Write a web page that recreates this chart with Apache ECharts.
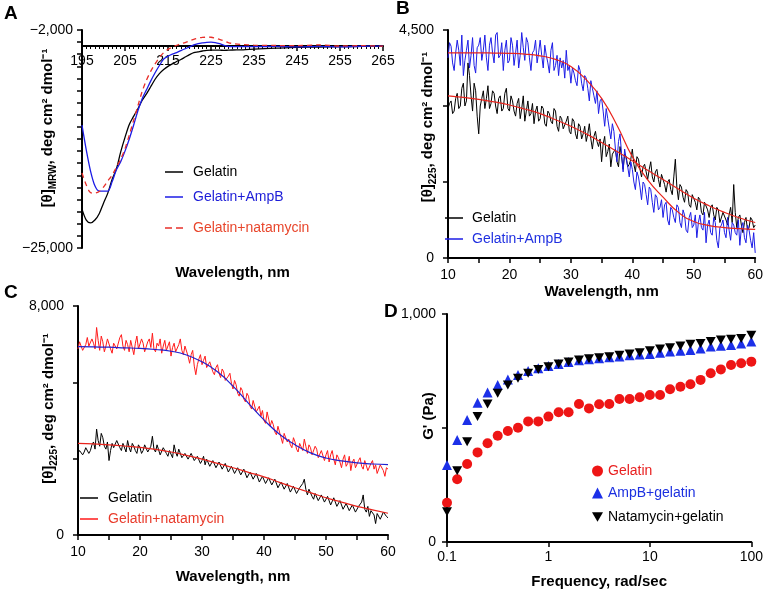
<!DOCTYPE html>
<html><head><meta charset="utf-8">
<script src="https://cdn.jsdelivr.net/npm/echarts@6/dist/echarts.min.js"></script>
<style>html,body{margin:0;padding:0;background:#fff}#c{width:766px;height:590px}</style>
</head><body><div id="c"></div>
<script>
// ---------- Panel A: CD spectra ----------
const wlA = [195,196,197,198,199,200,201,202,203,204,205,206,207,208,209,210,211,212,213,214,215,216,217,218,219,220,221,222,223,224,225,226,227,228,229,230,232.5,235,240,245,250,255,260,265];
const gelatinA = [-20180,-21540,-21900,-21540,-20750,-19450,-18200,-16500,-15200,-13100,-11300,-9700,-8700,-7750,-6700,-5900,-5000,-4100,-3400,-2900,-2500,-2200,-1900,-1650,-1350,-1050,-800,-700,-600,-520,-500,-500,-500,-520,-500,-480,-450,-370,-250,-150,-120,-60,-30,-20];
const ampbA = [-9780,-12875,-15500,-17300,-17950,-17950,-17950,-16800,-15300,-14300,-13000,-11500,-9800,-8000,-6500,-5400,-4300,-3300,-2400,-1600,-1250,-1000,-800,-550,-320,-100,150,300,400,480,500,450,300,100,-20,-60,-50,-60,-30,-100,-20,-80,-10,0];
const natA = [-15720,-17210,-18150,-18200,-18000,-17450,-16700,-15970,-15000,-14000,-12700,-11000,-9200,-7400,-5600,-4200,-3100,-2200,-1400,-800,-400,-120,100,300,450,650,850,1000,1080,1110,1100,1000,850,650,450,330,200,120,80,60,150,20,60,0];

// ---------- Panels B and C: thermal melts (x grid every 0.25 nm, fits every 2.5 nm) ----------
const wlN = Array.from({length:201},(_,i)=>10+i*0.25);
const wlFit = Array.from({length:21},(_,i)=>10+i*2.5);

const gelatinB = [
2950,3050,3100,2850,2900,3150,3250,2950,3000,3350,3450,3000,3100,3850,3600,3200,2900,3450,3300,2800,
2450,3000,3150,3300,2950,3150,3400,2950,3050,3300,3250,3000,2850,3150,3200,2900,2950,3250,3350,2950,
2900,3200,3100,2900,2800,3050,3150,2750,2950,3200,2700,2900,3100,2800,2850,3050,2650,2900,3000,2700,
2750,3000,2950,2650,2600,2900,2850,2700,2650,2950,2900,2600,2500,2800,2750,2550,2550,2700,2800,2500,
2450,2750,2700,2450,2350,2650,2600,2350,2450,2600,2300,2450,2650,2350,2150,2400,2500,2300,2200,2350,
1900,2250,2400,2000,2100,2250,1800,2050,2050,2150,1900,1800,2200,2000,1750,2050,2000,1800,1850,1950,
2150,1850,1700,2000,1950,1750,1600,1800,1850,1700,1550,1750,1900,1600,1500,1700,1750,1550,1400,1650,
1650,1450,1300,1500,1550,1350,1250,1600,1950,1400,1150,1450,1400,1200,1100,1350,1300,1050,1000,1250,
1250,1100,950,1200,1150,900,850,1100,1100,950,800,1000,1050,850,750,1000,950,700,700,900,
900,750,650,850,1000,700,1450,900,600,800,850,650,500,700,800,550,600,800,750,600,
650];
const ampbB = [
3950,4250,4180,3850,3700,4050,4300,4100,3800,4400,3600,3900,4100,4300,3750,4000,4350,3800,3650,4150,
4200,4350,3900,4100,4400,3950,3700,4200,4350,4050,3850,4400,4450,3950,4000,4250,3700,4100,4300,3850,
3900,4350,4200,3800,4050,4300,3750,4000,4450,4150,3900,4350,4250,3950,3700,4050,4100,4300,3850,4050,
4300,4000,3750,4200,4000,3850,3650,4100,4250,3700,3800,4000,3600,3950,3750,3900,3550,4100,3700,3800,
3450,3750,3650,3500,3400,3800,3700,3450,3300,3600,3550,3350,3100,3500,3350,3200,3050,3300,2850,3100,
3150,2900,2600,2950,2750,2550,2350,2650,2500,2150,1900,2300,2450,2050,1700,2150,1950,1800,1600,1900,
1750,1500,1350,1700,1600,1400,1150,1500,1450,1250,1050,1400,1350,1100,900,1250,1200,950,1000,1150,
800,1050,1100,750,650,1000,950,800,700,1050,1000,700,600,950,850,550,500,800,900,600,
650,850,400,700,850,600,550,900,300,650,750,500,450,800,700,350,200,600,650,750,
500,400,800,550,350,700,650,500,450,750,250,600,700,400,300,650,550,350,200,500,
100];
const fitGelatinB = [3200,3170,3130,3080,3020,2940,2850,2730,2600,2450,2280,2100,1920,1730,1550,1360,1180,1030,900,790,700];
const fitAmpbB = [4050,4050,4050,4045,4040,4025,3990,3920,3780,3520,3150,2620,2000,1540,1200,900,720,640,600,580,565];

const gelatinC = [
2850,2950,3000,2800,2900,3050,3100,2850,2950,3150,3250,3000,3700,3300,3100,3550,3400,3100,3000,3250,
2600,2950,3200,3050,3000,3300,3350,3050,2950,3200,3150,2900,3300,3050,2900,3200,3100,2950,2850,3150,
3050,2850,2950,3150,3200,2900,2850,3100,3450,3000,2900,3150,3100,2800,2800,3050,3000,2850,2750,2950,
2950,2700,3150,2900,2750,3000,2950,2700,2650,2850,2900,2650,2600,2850,2800,2600,2550,2750,2750,2500,
2600,2750,2450,2650,2700,2400,2400,2600,2650,2350,2350,2550,2500,2300,2250,2500,2450,2200,2200,2400,
2400,2150,2100,2350,2350,2100,2050,2300,2250,2000,1950,2200,2200,1950,1900,2150,2100,1850,1850,2050,
2050,1800,1800,2000,2000,1750,1700,1950,1900,1650,1650,1850,1850,1600,1600,1800,1750,1500,1500,1700,
1700,1450,1450,1650,1600,1800,1950,1600,1400,1600,1550,1350,1250,1450,1500,1200,1150,1400,1400,1150,
1100,1350,1300,1050,1050,1300,1250,1000,950,1200,1150,900,900,1100,1050,850,800,1050,1000,800,
750,1000,950,1150,1400,900,800,1000,650,850,900,700,400,750,750,550,550,800,850,650,
600];
const natC = [
6500,6750,6800,6450,6400,6650,6900,6600,6550,6850,6700,6500,7250,6800,6450,6950,6750,6400,6600,6850,
6900,6500,6350,6700,6750,6500,6550,6900,7000,6600,6450,6800,6650,6400,6800,6550,6300,6700,6950,6500,
6550,6850,6700,6400,6450,6750,6850,6550,7050,6500,6400,6700,6600,6850,6350,6600,6800,6450,6500,6750,
6250,6550,6700,6400,6450,6650,6850,6450,6300,6600,6550,6250,6000,6300,6450,5900,5600,5950,6150,6300,
5950,6100,6250,5850,5800,6050,6100,5700,5600,5850,5950,5650,5500,5800,5700,5400,5350,5550,5650,5300,
5100,5400,5250,4950,4850,5150,5050,4750,4650,4950,4850,4500,4400,4700,4650,4300,4250,4500,4150,4350,
4000,3900,4300,4050,3800,4000,3850,3600,3500,3800,3750,3400,3200,3550,3500,3250,3350,3150,3050,3400,
3250,3000,2900,3200,3150,2950,3350,3100,2850,3150,3050,2800,2750,3100,3000,2700,2650,2950,2900,2600,
2800,2950,2550,2800,2950,2650,2450,2800,2700,2550,2350,2650,2800,2400,2500,2750,2250,2550,2650,2350,
2400,2600,2700,2400,2300,2600,2550,2250,2200,2500,2600,2300,2450,2150,2150,2450,2500,2250,2050,2350,
2300];
const fitGelatinC = [3200,3180,3150,3110,3060,2990,2900,2780,2650,2500,2350,2190,2030,1840,1650,1480,1300,1150,1000,880,760];
const fitNatC = [6580,6570,6560,6540,6520,6480,6420,6290,6050,5700,5200,4600,4020,3520,3150,2870,2690,2590,2520,2480,2460];

// ---------- Panel D: rheology ----------
const freqD = [0.1,0.126,0.158,0.2,0.251,0.316,0.398,0.501,0.631,0.794,1,1.26,1.58,2,2.51,3.16,3.98,5.01,6.31,7.94,10,12.6,15.8,20,25.1,31.6,39.8,50.1,63.1,79.4,100];
const gelatinD = [172,275,342,393,433,466,487,501,529,529,550,569,569,605,586,604,605,627,627,635,645,645,670,681,692,711,740,757,776,784,791];
const ampbD = [338,447,535,611,656,689,713,732,750,762,772,781,789,797,801,806,810,814,819,822,825,830,835,839,842,849,857,861,864,871,879];
const natD = [133,313,440,550,605,652,689,718,740,757,769,781,789,798,804,808,813,819,825,830,839,846,852,860,867,871,879,886,889,893,907];

const pair = (xs, ys) => xs.map((x,i)=>[x, ys[i]]);
const FONT = 'Liberation Sans, Arial, sans-serif';
const BLUE = '#1c1ce6', RED = '#e8231c', BLACK = '#000';
const DOWN_TRI = 'path://M0,0L20,0L10,17.3Z';
const DASH_ICON = 'path://M0,0h7v1.5h-7zM11,0h7v1.5h-7z';

function axisBase(extra){
  return Object.assign({
    axisLine:{show:true,onZero:false,lineStyle:{color:'#000',width:2}},
    axisTick:{show:true,length:5,lineStyle:{color:'#000',width:1.5}},
    splitLine:{show:false},
    axisLabel:{color:'#000',fontSize:14,fontFamily:FONT},
    nameTextStyle:{color:'#000',fontSize:15,fontWeight:'bold',fontFamily:FONT}
  }, extra);
}
const richY = {
  a:{fontSize:15,fontWeight:'bold',fontFamily:FONT,color:'#000',lineHeight:20},
  s:{fontSize:10,fontWeight:'bold',fontFamily:FONT,color:'#000',lineHeight:10,verticalAlign:'bottom'}
};
function yName(gap, pad){
  return {nameLocation:'middle',nameRotate:90,nameGap:gap,nameMoveOverlap:false,
    nameTextStyle:{rich:richY,padding:pad||0}};
}
const lbl = (map) => (v) => (map[v] !== undefined ? map[v] : '');

const strip = n => n.split('#')[0];
function leg(name, left, top, color, extra){
  return Object.assign({data:[name],left:left,top:top,padding:0,itemWidth:18,itemHeight:1.5,itemGap:0,icon:'rect',
    formatter:strip,selectedMode:false,textStyle:{color:color,fontSize:14,fontFamily:FONT,padding:[0,0,0,5]}}, extra||{});
}

const option = {
  animation:false,
  grid:[
    {left:82,top:30,width:301,height:218},
    {left:448,top:30,width:310,height:228},
    {left:78,top:306,width:310,height:229},
    {left:447,top:314,width:308,height:228}
  ],
  xAxis:[
    axisBase({gridIndex:0,type:'value',min:195,max:265,interval:10,offset:-202,
      minorTick:{show:true,splitNumber:10,length:3,lineStyle:{color:'#000',width:1}},
      axisLabel:{color:'#000',fontSize:14,fontFamily:FONT,margin:8},
      name:'Wavelength, nm',nameLocation:'middle',nameGap:219,nameMoveOverlap:false}),
    axisBase({gridIndex:1,type:'value',min:10,max:60,interval:5,
      axisLabel:{color:'#000',fontSize:14,fontFamily:FONT,margin:10,formatter:v=>(v%10===0?String(v):'')},
      name:'Wavelength, nm',nameLocation:'middle',nameGap:26}),
    axisBase({gridIndex:2,type:'value',min:10,max:60,interval:5,
      axisLabel:{color:'#000',fontSize:14,fontFamily:FONT,margin:10,formatter:v=>(v%10===0?String(v):'')},
      name:'Wavelength, nm',nameLocation:'middle',nameGap:34}),
    axisBase({gridIndex:3,type:'log',logBase:10,min:0.1,max:100,
      axisLabel:{color:'#000',fontSize:14,fontFamily:FONT,margin:8,formatter:v=>(v<0.5?'0.1':String(Math.round(v)))},
      name:'Frequency, rad/sec',nameLocation:'middle',nameGap:32})
  ],
  yAxis:[
    axisBase(Object.assign({gridIndex:0,type:'value',min:-25000,max:2000,interval:1500,
      axisLabel:{color:'#000',fontSize:14,fontFamily:FONT,margin:9,formatter:lbl({'2000':'\u22122,000','-25000':'\u221225,000'})},
      name:'{a|[\u03b8]}{s|MRW}{a|, deg cm\u00b2 dmol\u207b\u00b9}'}, yName(24,[0,0,0,22]))),
    axisBase(Object.assign({gridIndex:1,type:'value',min:0,max:4500,interval:1500,
      axisLabel:{color:'#000',fontSize:14,fontFamily:FONT,margin:14,formatter:lbl({'4500':'4,500','0':'0'})},
      name:'{a|[\u03b8]}{s|225}{a|, deg cm\u00b2 dmol\u207b\u00b9}'}, yName(10,[0,0,0,34]))),
    axisBase(Object.assign({gridIndex:2,type:'value',min:0,max:8000,interval:8000/3,
      axisLabel:{color:'#000',fontSize:14,fontFamily:FONT,margin:14,formatter:v=>(v>7999?'8,000':(v===0?'0':''))},
      name:'{a|[\u03b8]}{s|225}{a|, deg cm\u00b2 dmol\u207b\u00b9}'}, yName(19,[0,0,0,24]))),
    axisBase({gridIndex:3,type:'value',min:0,max:1000,interval:500,
      axisLabel:{color:'#000',fontSize:14,fontFamily:FONT,margin:11,formatter:lbl({'1000':'1,000','0':'0'})},
      name:"G' (Pa)",nameLocation:'middle',nameRotate:90,nameGap:11,nameMoveOverlap:false,
      nameTextStyle:{color:'#000',fontSize:15,fontWeight:'bold',fontFamily:FONT,padding:[0,0,0,24]}})
  ],
  legend:[
    leg('Gelatin#A',165,165,'#000'),
    leg('Gelatin+AmpB#A',165,190,'#1c1cd8'),
    leg('Gelatin+natamycin#A',165,221,'#e8462c',{icon:DASH_ICON}),
    leg('Gelatin#B',445,211,'#000',{textStyle:{color:'#000',fontSize:14,fontFamily:FONT,padding:[0,0,0,4]}}),
    leg('Gelatin+AmpB#B',445,232,'#2030e0',{textStyle:{color:'#2030e0',fontSize:14,fontFamily:FONT,padding:[0,0,0,4]}}),
    leg('Gelatin#C',80,491,'#000'),
    leg('Gelatin+natamycin#C',80,512,'#e83a2a'),
    leg('Gelatin#D',592,464,'#e82020',{icon:'circle',itemWidth:11,itemHeight:11,textStyle:{color:'#e82020',fontSize:14,fontFamily:FONT}}),
    leg('AmpB+gelatin#D',592,486,'#1c30e0',{icon:'triangle',itemWidth:11,itemHeight:11,textStyle:{color:'#1c30e0',fontSize:14,fontFamily:FONT}}),
    leg('Natamycin+gelatin#D',592,510,'#000',{icon:DOWN_TRI,itemWidth:11,itemHeight:11,textStyle:{color:'#000',fontSize:14,fontFamily:FONT}})
  ],
  graphic:[
    {type:'text',left:4,top:4,style:{text:'A',font:'bold 19px '+FONT,fill:'#000'}},
    {type:'text',left:396,top:-1,style:{text:'B',font:'bold 19px '+FONT,fill:'#000'}},
    {type:'text',left:4,top:283,style:{text:'C',font:'bold 19px '+FONT,fill:'#000'}},
    {type:'text',left:384,top:302,style:{text:'D',font:'bold 19px '+FONT,fill:'#000'}}
  ],
  series:[
    {name:'Gelatin#A',type:'line',xAxisIndex:0,yAxisIndex:0,symbol:'none',smooth:0.3,data:pair(wlA,gelatinA),lineStyle:{color:BLACK,width:1.3},itemStyle:{color:BLACK}},
    {name:'Gelatin+AmpB#A',type:'line',xAxisIndex:0,yAxisIndex:0,symbol:'none',smooth:0.3,data:pair(wlA,ampbA),lineStyle:{color:BLUE,width:1.3},itemStyle:{color:BLUE}},
    {name:'Gelatin+natamycin#A',type:'line',xAxisIndex:0,yAxisIndex:0,symbol:'none',smooth:0.3,data:pair(wlA,natA),lineStyle:{color:'#e8302a',width:1.3,type:[5,4]},itemStyle:{color:'#e8302a'}},

    {name:'Gelatin#B',type:'line',xAxisIndex:1,yAxisIndex:1,symbol:'none',data:pair(wlN,gelatinB),lineStyle:{color:BLACK,width:1},itemStyle:{color:BLACK}},
    {name:'Gelatin+AmpB#B',type:'line',xAxisIndex:1,yAxisIndex:1,symbol:'none',data:pair(wlN,ampbB),lineStyle:{color:BLUE,width:1},itemStyle:{color:BLUE}},
    {name:'fitGelB',type:'line',xAxisIndex:1,yAxisIndex:1,symbol:'none',smooth:true,data:pair(wlFit,fitGelatinB),lineStyle:{color:RED,width:1.2},z:5},
    {name:'fitAmpB',type:'line',xAxisIndex:1,yAxisIndex:1,symbol:'none',smooth:true,data:pair(wlFit,fitAmpbB),lineStyle:{color:RED,width:1.2},z:5},

    {name:'Gelatin#C',type:'line',xAxisIndex:2,yAxisIndex:2,symbol:'none',data:pair(wlN,gelatinC),lineStyle:{color:BLACK,width:1},itemStyle:{color:BLACK}},
    {name:'Gelatin+natamycin#C',type:'line',xAxisIndex:2,yAxisIndex:2,symbol:'none',data:pair(wlN,natC),lineStyle:{color:'#ff1a1a',width:1},itemStyle:{color:'#ff1a1a'}},
    {name:'fitGelC',type:'line',xAxisIndex:2,yAxisIndex:2,symbol:'none',smooth:true,data:pair(wlFit,fitGelatinC),lineStyle:{color:RED,width:1.2},z:5},
    {name:'fitNatC',type:'line',xAxisIndex:2,yAxisIndex:2,symbol:'none',smooth:true,data:pair(wlFit,fitNatC),lineStyle:{color:'#2020d0',width:1.2},z:5},

    {name:'Gelatin#D',type:'scatter',xAxisIndex:3,yAxisIndex:3,symbol:'circle',symbolSize:10,data:pair(freqD,gelatinD),itemStyle:{color:'#ee1515',opacity:1}},
    {name:'AmpB+gelatin#D',type:'scatter',xAxisIndex:3,yAxisIndex:3,symbol:'triangle',symbolSize:10,data:pair(freqD,ampbD),itemStyle:{color:'#1c30e8',opacity:1}},
    {name:'Natamycin+gelatin#D',type:'scatter',xAxisIndex:3,yAxisIndex:3,symbol:DOWN_TRI,symbolSize:[10,9],data:pair(freqD,natD),itemStyle:{color:'#000',opacity:1}}
  ]
};
const chart = echarts.init(document.getElementById('c'), null, {renderer:'canvas'});
chart.setOption(option);
</script></body></html>
